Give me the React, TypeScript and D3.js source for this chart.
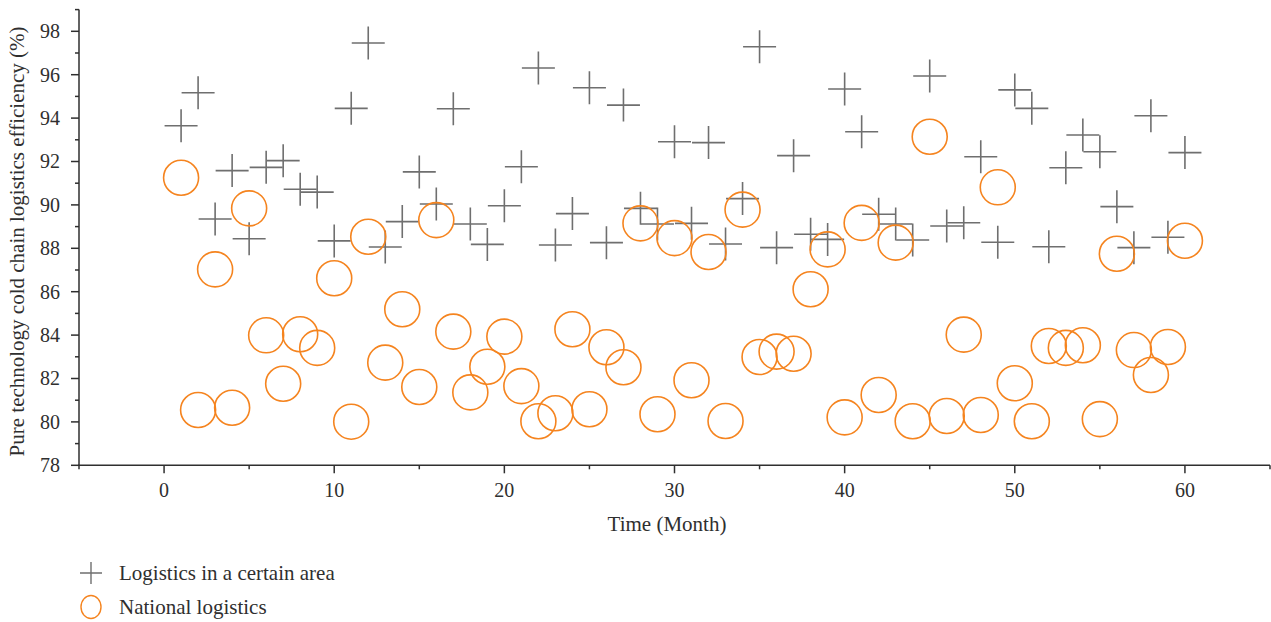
import React from "react";
import * as d3 from "d3";

const months: number[] = Array.from({ length: 60 }, (_, i) => i + 1);

const areaLogistics: number[] = [
  93.65, 95.17, 89.35, 91.58, 88.44, 91.73, 92.04, 90.72, 90.59, 88.34,
  94.45, 97.46, 88.06, 89.23, 91.52, 90.04, 94.43, 89.12, 88.18, 89.96,
  91.76, 96.31, 88.15, 89.6, 95.4, 88.26, 94.6, 89.84, 89.12, 92.91,
  89.15, 92.87, 88.2, 90.29, 97.29, 88.03, 92.27, 88.65, 88.41, 95.34,
  93.37, 89.57, 89.12, 88.38, 95.94, 89.03, 89.18, 92.22, 88.28, 95.3,
  94.45, 88.07, 91.71, 93.22, 92.45, 89.92, 88.03, 94.11, 88.51, 92.41,
];

const nationalLogistics: number[] = [
  91.25, 80.55, 87.03, 80.65, 89.84, 83.99, 81.76, 84.04, 83.41, 86.62,
  80.01, 88.53, 82.73, 85.19, 81.61, 89.3, 84.16, 81.36, 82.54, 83.93,
  81.65, 80.03, 80.4, 84.27, 80.58, 83.44, 82.52, 89.15, 80.35, 88.47,
  81.92, 87.83, 80.04, 89.78, 82.99, 83.24, 83.14, 86.11, 87.95, 80.21,
  89.17, 81.24, 88.26, 80.03, 93.14, 80.27, 84.02, 80.32, 90.81, 81.78,
  80.03, 83.5, 83.41, 83.53, 80.13, 87.75, 83.31, 82.16, 83.45, 88.35,
];

const xMajorTicks: number[] = [0, 10, 20, 30, 40, 50, 60];
const xMinorTicks: number[] = [-5, 5, 15, 25, 35, 45, 55, 65];
const yMajorTicks: number[] = [78, 80, 82, 84, 86, 88, 90, 92, 94, 96, 98];
const yMinorTicks: number[] = [79, 81, 83, 85, 87, 89, 91, 93, 95, 97, 99];

const seriesNames: string[] = ["Logistics in a certain area", "National logistics"];

const GRAY = "#6f6f6f";
const ORANGE = "#f5841f";
const AXIS = "#2f2f2f";
const FONT = "'Liberation Serif', 'DejaVu Serif', serif";

export default function App() {
  const width = 1271;
  const height = 622;
  const x = d3.scaleLinear().domain([-5, 65]).range([79, 1270]);
  const y = d3.scaleLinear().domain([78, 99]).range([465.3, 9.6]);
  const plusHalf = 16.5;
  const r = 17.5;

  return (
    <svg
      width={width}
      height={height}
      style={{ position: "absolute", left: 0, top: 0, background: "#fff" }}
      fontFamily={FONT}
    >
      {/* markers: pluses */}
      <g stroke={GRAY} strokeWidth={1.6} fill="none">
        {months.map((m, i) => {
          const cx = x(m);
          const cy = y(areaLogistics[i]);
          return (
            <path
              key={"p" + i}
              d={`M${cx - plusHalf},${cy}H${cx + plusHalf}M${cx},${cy - plusHalf}V${cy + plusHalf}`}
            />
          );
        })}
      </g>
      {/* markers: circles */}
      <g stroke={ORANGE} strokeWidth={1.6} fill="none">
        {months.map((m, i) => (
          <circle key={"c" + i} cx={x(m)} cy={y(nationalLogistics[i])} r={r} />
        ))}
      </g>

      {/* axes */}
      <g stroke={AXIS} strokeWidth={1.5} fill="none">
        <line x1={x(-5)} x2={x(-5)} y1={y(99)} y2={y(78) + 0.75} />
        <line x1={x(-5) - 0.75} x2={x(65)} y1={y(78)} y2={y(78)} />
        {yMajorTicks.map((t) => (
          <line key={"ym" + t} x1={x(-5) - 8} x2={x(-5)} y1={y(t)} y2={y(t)} />
        ))}
        {yMinorTicks.map((t) => (
          <line key={"yn" + t} x1={x(-5) - 4} x2={x(-5)} y1={y(t)} y2={y(t)} />
        ))}
        {xMajorTicks.map((t) => (
          <line key={"xm" + t} x1={x(t)} x2={x(t)} y1={y(78)} y2={y(78) + 8} />
        ))}
        {xMinorTicks.map((t) => (
          <line key={"xn" + t} x1={x(t)} x2={x(t)} y1={y(78)} y2={y(78) + 4} />
        ))}
      </g>

      <g fill={AXIS} fontSize={20}>
        {yMajorTicks.map((t) => (
          <text key={"yl" + t} x={x(-5) - 19} y={y(t)} dy="0.34em" textAnchor="end">
            {t}
          </text>
        ))}
        {xMajorTicks.map((t) => (
          <text key={"xl" + t} x={x(t)} y={y(78) + 32} textAnchor="middle">
            {t}
          </text>
        ))}
      </g>
      <g fill={AXIS} fontSize={21}>
        <text x={667} y={531} textAnchor="middle">
          Time (Month)
        </text>
        <text
          transform={`translate(24, ${(y(78) + y(99)) / 2 + 4}) rotate(-90)`}
          textAnchor="middle"
        >
          Pure technology cold chain logistics efficiency (%)
        </text>
      </g>

      {/* legend */}
      <g>
        <path d="M80,573H102M91,562V584" stroke={GRAY} strokeWidth={1.4} fill="none" />
        <text x={119} y={580} fontSize={21} fill={AXIS}>
          {seriesNames[0]}
        </text>
        <ellipse cx={91} cy={607} rx={10} ry={11.5} stroke={ORANGE} strokeWidth={1.4} fill="none" />
        <text x={119} y={614} fontSize={21} fill={AXIS}>
          {seriesNames[1]}
        </text>
      </g>
    </svg>
  );
}
